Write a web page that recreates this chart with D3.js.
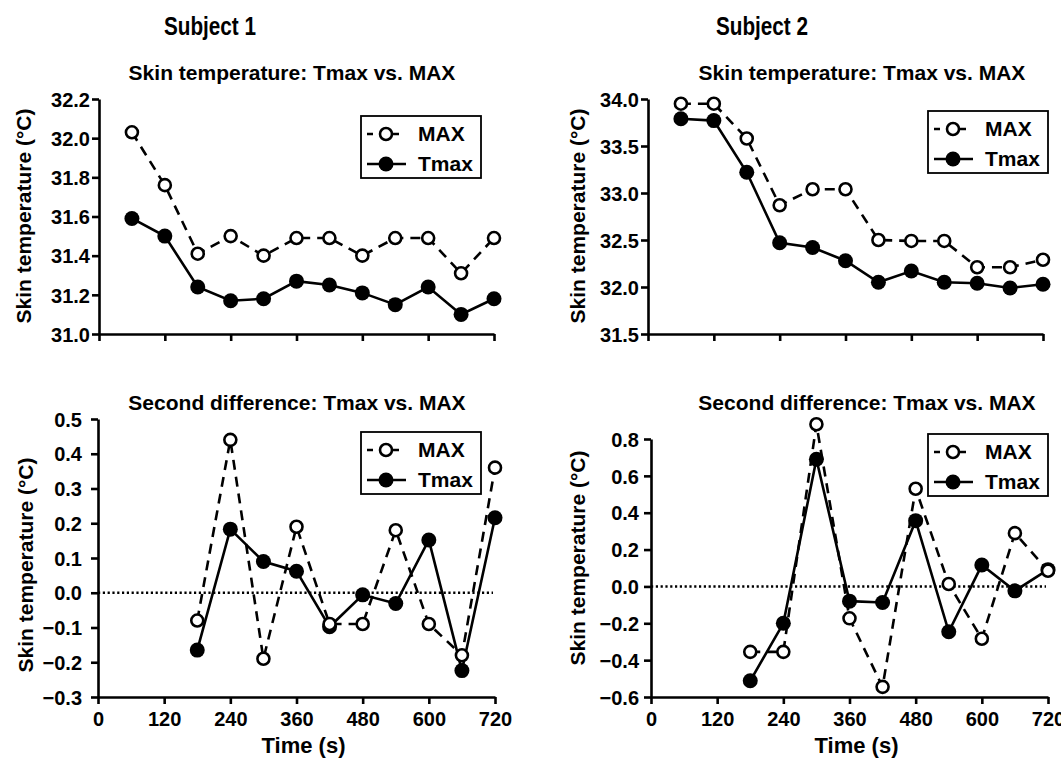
<!DOCTYPE html>
<html>
<head>
<meta charset="utf-8">
<script src="https://cdn.jsdelivr.net/npm/d3@7"></script>
<style>
  body { margin: 0; background: #fff; }
  text { font-family: "Liberation Sans", Arial, sans-serif; font-weight: bold; fill: #000; }
</style>
</head>
<body>
<div id="chart"></div>
<script>
// data
var times = [60, 120, 180, 240, 300, 360, 420, 480, 540, 600, 660, 720];
var diffTimes = [180, 240, 300, 360, 420, 480, 540, 600, 660, 720];
var xTicks = [0, 120, 240, 360, 480, 600, 720];

var s1SkinMax = [32.03, 31.76, 31.41, 31.50, 31.40, 31.49, 31.49, 31.40, 31.49, 31.49, 31.31, 31.49];
var s1SkinTmax = [31.59, 31.50, 31.24, 31.17, 31.18, 31.27, 31.25, 31.21, 31.15, 31.24, 31.10, 31.18];
var s2SkinMax = [33.95, 33.95, 33.58, 32.87, 33.04, 33.04, 32.50, 32.49, 32.49, 32.21, 32.21, 32.29];
var s2SkinTmax = [33.79, 33.77, 33.22, 32.47, 32.42, 32.28, 32.05, 32.17, 32.05, 32.04, 31.99, 32.03];

var s1DiffMax = [-0.08, 0.44, -0.19, 0.19, -0.09, -0.09, 0.18, -0.09, -0.18, 0.36];
var s1DiffTmax = [-0.165, 0.183, 0.09, 0.062, -0.098, -0.006, -0.031, 0.152, -0.224, 0.216];
var s2DiffMax = [-0.355, -0.355, 0.88, -0.173, -0.545, 0.53, 0.013, -0.284, 0.289, 0.085];
var s2DiffTmax = [-0.512, -0.2, 0.69, -0.08, -0.087, 0.357, -0.246, 0.116, -0.024, 0.091];

var s1SkinTicks = [31.0, 31.2, 31.4, 31.6, 31.8, 32.0, 32.2];
var s2SkinTicks = [31.5, 32.0, 32.5, 33.0, 33.5, 34.0];
var s1DiffTicks = [-0.3, -0.2, -0.1, 0.0, 0.1, 0.2, 0.3, 0.4, 0.5];
var s2DiffTicks = [-0.6, -0.4, -0.2, 0.0, 0.2, 0.4, 0.6, 0.8];

var subjects = ["Subject 1", "Subject 2"];
var seriesNames = ["MAX", "Tmax"];

var svgWidth = 1061;
var svgHeight = 758;

var svg = d3.select("#chart")
  .append("svg")
  .attr("width", svgWidth)
  .attr("height", svgHeight);

// subject headers (the original face is a bit condensed)
svg.append("text").attr("x", 210).attr("y", 35)
  .attr("text-anchor", "middle").style("font-size", "25px")
  .attr("textLength", 92).attr("lengthAdjust", "spacingAndGlyphs").text(subjects[0]);
svg.append("text").attr("x", 762).attr("y", 35)
  .attr("text-anchor", "middle").style("font-size", "25px")
  .attr("textLength", 92).attr("lengthAdjust", "spacingAndGlyphs").text(subjects[1]);

function drawPanel(p) {
  var x = d3.scaleLinear().domain([0, 720]).range([p.left, p.right]);
  var y = d3.scaleLinear().domain([p.ticks[0], p.ticks[p.ticks.length - 1]]).range([p.bottom, p.top]);
  var g = svg.append("g");

  // y axis
  var yAxis = g.append("g")
    .attr("transform", `translate(${p.left}, 0)`)
    .call(d3.axisLeft(y).tickValues(p.ticks).tickFormat(d3.format(p.fmt)).tickSize(7).tickSizeOuter(0).tickPadding(p.pad));
  // x axis
  var xAxis = g.append("g")
    .attr("transform", `translate(0, ${p.bottom})`)
    .call(d3.axisBottom(x).tickValues(xTicks).tickSize(7).tickSizeOuter(0).tickPadding(8)
      .tickFormat(p.xLabels ? d3.format("d") : ""));

  g.selectAll(".domain, .tick line").attr("stroke", "#000").attr("stroke-width", 2.6);
  g.selectAll(".tick text").style("font-size", "20px").attr("fill", "#000").style("font-family", "Liberation Sans, Arial, sans-serif");
  yAxis.selectAll(".tick text").attr("dy", "0.36em");
  xAxis.selectAll(".tick text").attr("dy", "0.7em");

  // dotted zero line
  if (p.zero) {
    g.append("line")
      .attr("x1", p.left).attr("x2", x(720) - 2)
      .attr("y1", y(0)).attr("y2", y(0))
      .attr("stroke", "#000").attr("stroke-width", 2.4)
      .attr("stroke-dasharray", "2.2,2.6");
  }

  var ptsMax = p.t.map((t, i) => [t, p.max[i]]);
  var ptsTmax = p.t.map((t, i) => [t, p.tmax[i]]);
  var line = d3.line().x(d => x(d[0])).y(d => y(d[1]));

  g.append("path").attr("d", line(ptsMax))
    .attr("fill", "none").attr("stroke", "#000").attr("stroke-width", 2.6)
    .attr("stroke-dasharray", "10,7");
  g.append("path").attr("d", line(ptsTmax))
    .attr("fill", "none").attr("stroke", "#000").attr("stroke-width", 2.6);

  g.selectAll(".tmaxPt").data(ptsTmax).enter().append("circle")
    .attr("cx", d => x(d[0])).attr("cy", d => y(d[1]))
    .attr("r", 7.5).attr("fill", "#000");
  g.selectAll(".maxPt").data(ptsMax).enter().append("circle")
    .attr("cx", d => x(d[0])).attr("cy", d => y(d[1]))
    .attr("r", 6).attr("fill", "#fff").attr("stroke", "#000").attr("stroke-width", 2.6);

  // titles
  g.append("text").attr("x", p.titleX).attr("y", p.titleY)
    .attr("text-anchor", "middle").style("font-size", "21px").text(p.title);
  g.append("text")
    .attr("transform", `translate(${p.labelX}, ${p.labelY}) rotate(-90)`)
    .attr("text-anchor", "middle").style("font-size", "21px").text("Skin temperature (°C)");
  if (p.xLabels) {
    g.append("text").attr("x", (p.left + p.right) / 2 + 7).attr("y", 753)
      .attr("text-anchor", "middle").style("font-size", "22px").text("Time (s)");
  }

  // legend
  var lg = g.append("g").attr("transform", `translate(${p.legX}, ${p.legY})`);
  lg.append("rect").attr("width", 120).attr("height", 62)
    .attr("fill", "#fff").attr("stroke", "#000").attr("stroke-width", 1.8);
  lg.append("line").attr("x1", 6).attr("x2", 45).attr("y1", 18).attr("y2", 18)
    .attr("stroke", "#000").attr("stroke-width", 2.6).attr("stroke-dasharray", "6,7");
  lg.append("circle").attr("cx", 25).attr("cy", 18).attr("r", 6)
    .attr("fill", "#fff").attr("stroke", "#000").attr("stroke-width", 2.6);
  lg.append("line").attr("x1", 6).attr("x2", 45).attr("y1", 48).attr("y2", 48)
    .attr("stroke", "#000").attr("stroke-width", 2.6);
  lg.append("circle").attr("cx", 25).attr("cy", 48).attr("r", 7.5).attr("fill", "#000");
  lg.append("text").attr("x", 57).attr("y", 25).style("font-size", "21px").text(seriesNames[0]);
  lg.append("text").attr("x", 57).attr("y", 55).style("font-size", "21px").text(seriesNames[1]);
}

drawPanel({ t: times, max: s1SkinMax, tmax: s1SkinTmax, ticks: s1SkinTicks, fmt: ".1f", pad: 2,
  left: 99, right: 494, top: 99, bottom: 334, xLabels: false, zero: false,
  title: "Skin temperature: Tmax vs. MAX", titleX: 292, titleY: 80, labelX: 31, labelY: 216,
  legX: 361, legY: 116 });
drawPanel({ t: times, max: s2SkinMax, tmax: s2SkinTmax, ticks: s2SkinTicks, fmt: ".1f", pad: 2,
  left: 648, right: 1043, top: 99, bottom: 334, xLabels: false, zero: false,
  title: "Skin temperature: Tmax vs. MAX", titleX: 862, titleY: 80, labelX: 585, labelY: 216,
  legX: 928, legY: 111 });
drawPanel({ t: diffTimes, max: s1DiffMax, tmax: s1DiffTmax, ticks: s1DiffTicks, fmt: ".1f", pad: 9,
  left: 98, right: 495, top: 419, bottom: 697, xLabels: true, zero: true,
  title: "Second difference: Tmax vs. MAX", titleX: 297, titleY: 410, labelX: 33, labelY: 565,
  legX: 361, legY: 432 });
drawPanel({ t: diffTimes, max: s2DiffMax, tmax: s2DiffTmax, ticks: s2DiffTicks, fmt: ".1f", pad: 5,
  left: 651, right: 1048, top: 439, bottom: 697, xLabels: true, zero: true,
  title: "Second difference: Tmax vs. MAX", titleX: 867, titleY: 410, labelX: 585, labelY: 558,
  legX: 928, legY: 434 });
</script>
</body>
</html>
